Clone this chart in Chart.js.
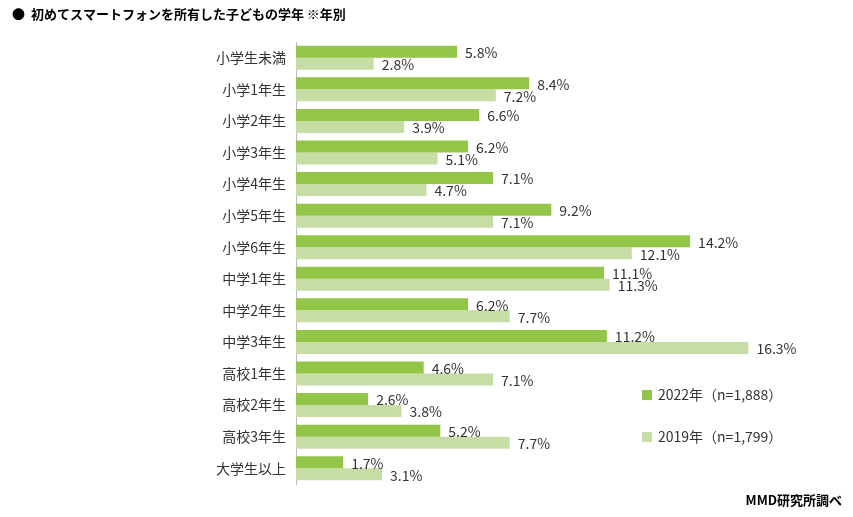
<!DOCTYPE html><html><head><meta charset="utf-8">
<script src="https://cdn.jsdelivr.net/npm/chart.js"></script>
<style>body{margin:0;background:#fff}#w{width:853px;height:517px}</style></head><body><div id="w"><canvas id="c"></canvas></div>
<script>
const categories=["小学生未満","小学1年生","小学2年生","小学3年生","小学4年生","小学5年生","小学6年生","中学1年生","中学2年生","中学3年生","高校1年生","高校2年生","高校3年生","大学生以上"];
const s2022=[5.8,8.4,6.6,6.2,7.1,9.2,14.2,11.1,6.2,11.2,4.6,2.6,5.2,1.7];
const s2019=[2.8,7.2,3.9,5.1,4.7,7.1,12.1,11.3,7.7,16.3,7.1,3.8,7.7,3.1];
const names=["2022年（n=1,888）","2019年（n=1,799）"];
const colors=["#92c548","#c6dea6"];
const F='"Noto Sans CJK JP","Noto Sans",sans-serif';
const deco={id:'deco',afterDatasetsDraw(ch){const c=ch.ctx;c.save();c.fillStyle='#333';c.font='14px '+F;c.textAlign='left';c.textBaseline='middle';
ch.data.datasets.forEach((d,i)=>{ch.getDatasetMeta(i).data.forEach((b,j)=>{c.fillText(d.data[j].toFixed(1)+'%',b.x+8,b.y+1);});});
c.font='bold 13px '+F;c.fillStyle='#000';c.fillText('●  初めてスマートフォンを所有した子どもの学年 ※年別',12,14);
c.textAlign='right';c.fillText('MMD研究所調べ',842,500);
c.textAlign='left';c.font='14px '+F;c.fillStyle='#333';
[[395,0],[437,1]].forEach(([y,i])=>{c.fillStyle=colors[i];c.fillRect(642,y-5,10,10);c.fillStyle='#333';c.fillText(names[i],658,y);});
c.restore();}};
new Chart(document.getElementById('c'),{type:'bar',data:{labels:categories,datasets:[
{label:names[0],data:s2022,backgroundColor:colors[0]},{label:names[1],data:s2019,backgroundColor:colors[1]}]},
options:{indexAxis:'y',responsive:true,maintainAspectRatio:false,animation:false,layout:{padding:{top:42,bottom:33,right:13,left:0}},
categoryPercentage:0.76,barPercentage:1,
plugins:{legend:{display:false},tooltip:{enabled:false}},
scales:{x:{display:false,min:0,max:19.6},y:{afterFit(a){a.width=296;},grid:{display:false,drawTicks:false},border:{color:'#bbb'},ticks:{color:'#333',font:{size:14,family:F},padding:10}}}},plugins:[deco]});
</script></body></html>
